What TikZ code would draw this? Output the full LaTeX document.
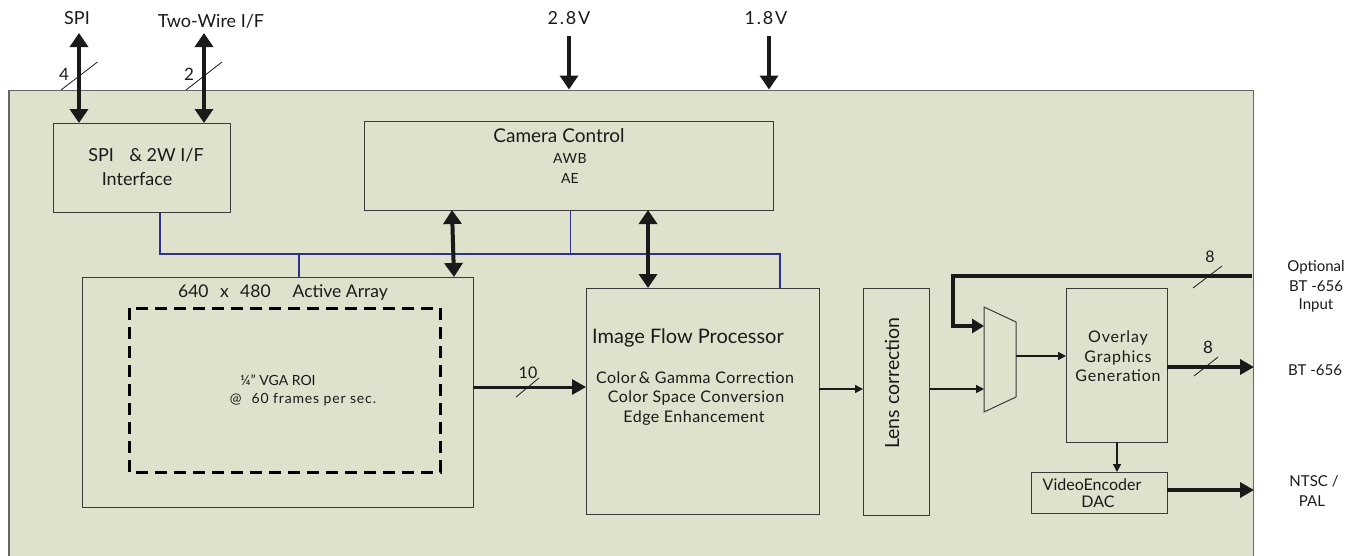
\documentclass[tikz,border=0pt]{standalone}
\usepackage{fontspec}
\setmainfont{Lato}
\usetikzlibrary{arrows.meta}
\definecolor{chipbg}{HTML}{DEE1CB}
\definecolor{busblue}{HTML}{2E3192}
\definecolor{ink}{HTML}{1A1A1A}
\definecolor{edge}{HTML}{3A3A3A}
\newcommand{\spaced}[1]{\addfontfeature{LetterSpace=#1}}
\begin{document}
\begin{tikzpicture}[x=1pt,y=-1pt,
  blk/.style={draw=edge, line width=1pt, inner sep=0pt, anchor=north west},
  txt/.style={inner sep=0pt, text=ink},
  fbig/.style={font=\fontsize{18}{21}\selectfont},
  fmid/.style={font=\fontsize{16}{19}\selectfont},
  fsm/.style={font=\fontsize{14}{17}\selectfont},
  heavy/.style={draw=ink, line width=4pt, -{Triangle[width=18pt,length=14pt]}},
  heavyboth/.style={draw=ink, line width=4pt, {Triangle[width=18pt,length=14pt]}-{Triangle[width=18pt,length=14pt]}},
  medium/.style={draw=ink, line width=3pt, -{Triangle[width=15pt,length=14pt]}},
  light/.style={draw=ink, line width=1.5pt, -{Triangle[width=8pt,length=8pt]}},
  bus/.style={draw=busblue, line width=1.5pt},
  slash/.style={draw=ink, line width=0.8pt},
  roi/.style={draw=black, line width=3pt, dash pattern=on 12pt off 7pt}
]
\useasboundingbox (0,0) rectangle (1359,555);
% chip outline
\node[blk, draw=black!60, line width=1.5pt, fill=chipbg, minimum width=1244.5pt, minimum height=480pt] (chip) at (8,89.5) {};

% blocks
\node[blk, minimum width=177pt, minimum height=89pt] (spi) at (53,123) {};
\node[blk, minimum width=409pt, minimum height=89.5pt] (cam) at (364,120.5) {};
\node[blk, minimum width=391.5pt, minimum height=230pt] (arr) at (81.5,277) {};
\node[blk, minimum width=233pt, minimum height=226pt] (ifp) at (586,288) {};
\node[blk, minimum width=66pt, minimum height=227pt] (lens) at (863,288) {};
\node[blk, minimum width=101pt, minimum height=154pt] (ovl) at (1066,288) {};
\node[blk, minimum width=136pt, minimum height=41pt] (venc) at (1031,472) {};
\draw[roi] (129,308) rectangle (440,472);
% mux
\coordinate (muxA) at (984,307);
\coordinate (muxB) at (1016,322);
\coordinate (muxC) at (1016,397);
\coordinate (muxD) at (984,412);
\draw[draw=edge, line width=1pt] (muxA) -- (muxB) -- (muxC) -- (muxD) -- cycle;
\coordinate (muxIn1) at (984,326);
\coordinate (muxIn2) at (984,389);
\coordinate (muxOut) at (1016,356);

% texts in blocks
\node[txt, fbig] (spiT1) at (146,155) {SPI\hspace{0.6em} \& 2W I/F};
\node[txt, fbig] (spiT2) at (137,179) {Interface};
\node[txt, font=\fontsize{19}{22}\selectfont] (camT1) at (559,136) {Camera Control};
\node[txt, fsm] (camT2) at (570,158) {\spaced{4}AWB};
\node[txt, fsm] (camT3) at (570,178) {AE};
\node[txt, font=\fontsize{17.5}{21}\selectfont] (arrT) at (283,293) {640\hspace{0.4em} x\hspace{0.4em} 480\hspace{1em} Active Array};
\node[txt, fsm] (roiT1) at (278,380) {¼” VGA ROI};
\node[txt, fsm] (roiT2) at (303,400) {\spaced{6}@\hspace{0.4em} 60 frames per sec.};
\node[txt, font=\fontsize{20}{23}\selectfont] (ifpT) at (688,338) {Image Flow Processor};
\node[txt, fmid] (ifpT1) at (695,378) {\spaced{3}Color\,\& Gamma Correction};
\node[txt, fmid] (ifpT2) at (696,398) {\spaced{3}Color Space Conversion};
\node[txt, fmid] (ifpT3) at (694,418) {\spaced{3}Edge Enhancement};
\node[txt, font=\fontsize{19.5}{22}\selectfont, rotate=90] (lensT) at (892,383) {Lens correction};
\node[txt, fmid] (ovlT1) at (1118,338) {\spaced{5}Overlay};
\node[txt, fmid] (ovlT2) at (1118,358) {\spaced{5}Graphics};
\node[txt, fmid] (ovlT3) at (1118,376) {\spaced{5}Generation};
\node[txt, fmid] (vencT1) at (1092,485) {VideoEncoder};
\node[txt, fmid] (vencT2) at (1098,502) {DAC};

% external labels
\node[txt, fbig] (lSPI) at (77,18) {SPI};
\node[txt, fbig] (lTW) at (211,21) {Two-Wire I/F};
\node[txt, fbig] (l28) at (569,18) {\spaced{10}2.8V};
\node[txt, fbig] (l18) at (766,18) {\spaced{10}1.8V};
\node[txt, font=\fontsize{15}{18}\selectfont] (lOpt1) at (1316,267) {Optional};
\node[txt, font=\fontsize{15}{18}\selectfont] (lOpt2) at (1316,286) {BT -656};
\node[txt, font=\fontsize{15}{18}\selectfont] (lOpt3) at (1316,305) {Input};
\node[txt, font=\fontsize{15}{18}\selectfont] (lBT) at (1315,370) {BT -656};
\node[txt, font=\fontsize{15}{18}\selectfont] (lNT1) at (1314,481) {NTSC /};
\node[txt, font=\fontsize{15}{18}\selectfont] (lNT2) at (1312,501) {PAL};

% top interface arrows
\coordinate (spiTop) at (79,33);
\coordinate (twTop) at (204,33);
\draw[heavyboth] (spiTop) -- (spi.north -| spiTop);
\draw[heavyboth] (twTop) -- (spi.north -| twTop);
\draw[slash] (61,90) -- (97.5,62);
\draw[slash] (186,90) -- (222,62);
\node[txt, font=\fontsize{17}{20}\selectfont] (n4) at (64,74) {4};
\node[txt, font=\fontsize{17}{20}\selectfont] (n2) at (189,74) {2};

% supply arrows
\coordinate (v28) at (569,36);
\coordinate (v18) at (769,36);
\draw[heavy] (v28) -- (chip.north -| v28);
\draw[heavy] (v18) -- (chip.north -| v18);

% blue bus
\coordinate (busL) at (160,254);
\coordinate (busR) at (780,254);
\draw[bus] (spi.south -| busL) -- (busL) -- (busR) -- (ifp.north -| busR);
\draw[bus] (299,254) -- (arr.north -| 299,254);
\draw[bus] (cam.south -| 570.5,254) -- (570.5,254);

% bidirectional control arrows
\draw[heavyboth] (452,210) -- (454,277);
\draw[heavyboth] (648,210) -- (648,288);

% data path
\coordinate (d10) at (473,387);
\draw[medium] (d10) -- (ifp.west |- d10);
\draw[slash] (516,397) -- (539,378);
\node[txt, fmid] (n10) at (528,373) {10};

\coordinate (d1) at (819,389);
\draw[light] (d1) -- (lens.west |- d1);
\draw[light] (lens.east |- muxIn2) -- (muxIn2);
\draw[light] (muxOut) -- (ovl.west |- muxOut);

% optional input
\coordinate (optR) at (1252,276);
\coordinate (optL) at (953,276);
\draw[draw=ink, line width=3.5pt, -{Triangle[width=14pt,length=12pt]}] (optR) -- (optL) -- (optL |- muxIn1) -- (muxIn1);
\draw[slash] (1193,288) -- (1222,266);
\node[txt, fmid] (n8a) at (1210,257) {8};

% outputs
\coordinate (bt) at (1167,367);
\draw[draw=ink, line width=3.5pt, -{Triangle[width=15pt,length=14pt]}] (bt) -- (chip.east |- bt);
\draw[slash] (1194,376) -- (1218,357);
\node[txt, font=\fontsize{17}{20}\selectfont] (n8b) at (1208,347) {8};

\coordinate (ovd) at (1117,442);
\draw[light] (ovd) -- (venc.north -| ovd);

\coordinate (nt) at (1167,490);
\draw[draw=ink, line width=3.5pt, -{Triangle[width=15pt,length=14pt]}] (nt) -- (chip.east |- nt);
\end{tikzpicture}
\end{document}
